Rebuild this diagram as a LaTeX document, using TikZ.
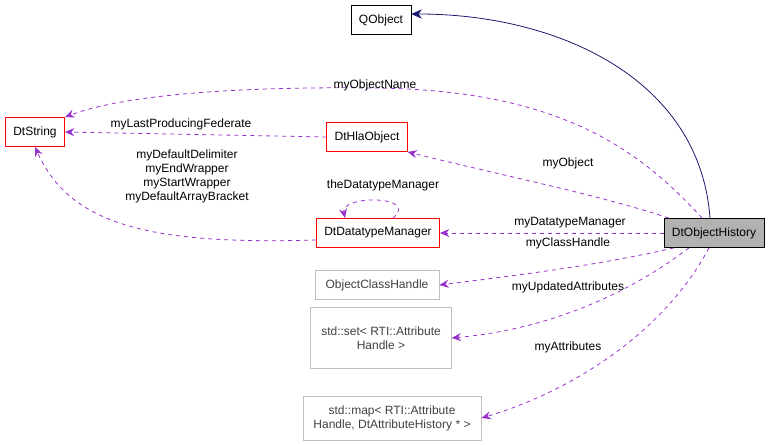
\documentclass[tikz,border=0pt]{standalone}
\usepackage{fontspec}
\setmainfont{Liberation Sans}
\usetikzlibrary{arrows.meta}
\definecolor{edgepurple}{RGB}{153,50,204}
\definecolor{edgenavy}{RGB}{25,25,112}
\tikzset{
  cls/.style={draw=black,rectangle,font=\fontsize{9}{10.5}\selectfont,minimum height=22pt,inner xsep=6pt,align=center},
  redcls/.style={cls,draw=red},
  graycls/.style={cls,draw=gray!50,text=black!75,inner xsep=8pt},
  use/.style={-{Stealth[length=7pt,width=6pt]},dashed,draw=edgepurple,line width=0.6pt},
  lbl/.style={font=\fontsize{9}{10.5}\selectfont,align=center,inner sep=1pt}
}
\begin{document}
\begin{tikzpicture}[x=0.75pt,y=-0.75pt]
\useasboundingbox (0,0) rectangle (779,445);
% classes
\node[cls] (qobj) at (381,20) {QObject};
\node[redcls] (dtstr) at (35,132) {DtString};
\node[redcls] (hla) at (367,137) {DtHlaObject};
\node[redcls] (dtm) at (378,233) {DtDatatypeManager};
\node[cls,fill=gray!60] (hist) at (714,233) {DtObjectHistory};
\node[graycls] (och) at (377,285) {ObjectClassHandle};
\node[graycls,minimum height=46pt] (set) at (381,338) {std::set\textless{} RTI::Attribute\\Handle \textgreater};
\node[graycls,minimum height=33pt] (map) at (392,418) {std::map\textless{} RTI::Attribute\\Handle, DtAttributeHistory * \textgreater};
% inheritance
\draw[-{Stealth[length=8pt,width=7pt]},edgenavy,line width=0.6pt] (hist.north) ++(-4,0) .. controls (700,80) and (560,14) .. (qobj.east |- 0,14);
% members
\draw[use] (hist.north) ++(-12,0) .. controls (640,150) and (560,90) .. (375,88) .. controls (200,86) and (110,100) .. (dtstr.north east);
\node[lbl] at (375,85) {myObjectName};
\draw[use] (hla.west) -- (dtstr.east);
\node[lbl] at (181,124) {myLastProducingFederate};
\draw[use] (hist.north west) ++(5,0) .. controls (600,195) and (500,175) .. (hla.south east);
\node[lbl] at (568,163) {myObject};
\draw[use] (hist.west) -- (dtm.east);
\node[lbl] at (570,223) {myDatatypeManager};
\draw[use] (dtm.north) ++(15,0) .. controls (420,195) and (340,195) .. (dtm.north -| 345,0);
\node[lbl] at (383,185) {theDatatypeManager};
\draw[use] (dtm.west |- 0,240) .. controls (150,245) and (70,225) .. (dtstr.south);
\node[lbl] at (187,176) {myDefaultDelimiter\\myEndWrapper\\myStartWrapper\\myDefaultArrayBracket};
\draw[use] (hist.south west) ++(10,0) .. controls (600,265) and (520,275) .. (och.east);
\node[lbl] at (568,243) {myClassHandle};
\draw[use] (hist.south) ++(-25,0) .. controls (620,300) and (540,330) .. (set.east);
\node[lbl] at (568,287) {myUpdatedAttributes};
\draw[use] (hist.south) ++(-5,0) .. controls (660,340) and (560,395) .. (map.east);
\node[lbl] at (568,347) {myAttributes};
\end{tikzpicture}
\end{document}
